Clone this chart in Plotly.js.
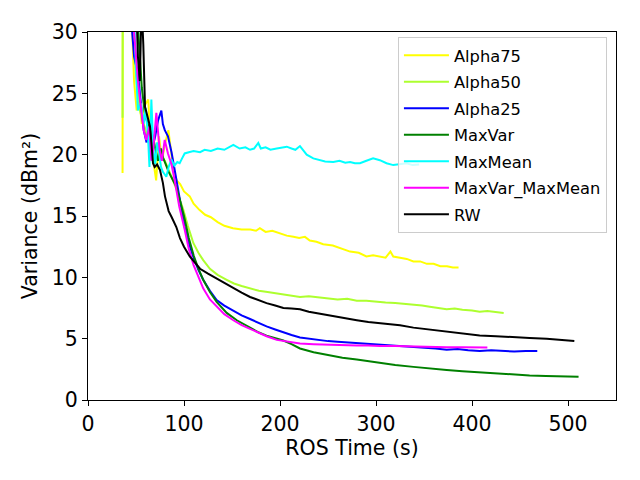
<!DOCTYPE html>
<html>
<head>
<meta charset="utf-8">
<script src="https://cdn.plot.ly/plotly-3.0.1.min.js"></script>
<style>
  html, body { margin: 0; padding: 0; background: white; }
  #chart { width: 640px; height: 480px; }
</style>
</head>
<body>
<div id="chart"></div>
<script>
// series, ROS time (s) vs variance (dBm^2)
const alpha75X = [36, 36.5, 46, 48, 50.7, 53, 56, 59, 62.8, 65, 68, 71, 74, 77, 80, 83.7, 87, 90, 92.4, 96, 100, 106, 110, 116, 122, 128, 135, 142, 151, 160, 169, 175, 179, 185, 192, 200, 207, 214, 220, 226, 231, 238, 245, 255, 263, 273, 282, 290, 297, 305, 310, 315, 318, 325, 332, 339, 346, 353, 360, 367, 374, 380, 386];
const alpha75Y = [18.5, 50, 30.2, 26, 23.6, 25, 22.5, 24, 24.5, 21, 19.5, 17.9, 21.5, 19.5, 20.8, 22.0, 20, 18.5, 17.9, 17.6, 17.0, 16.6, 16.0, 15.5, 15.1, 14.9, 14.5, 14.2, 14.0, 13.9, 13.9, 13.8, 14.0, 13.7, 13.8, 13.6, 13.4, 13.3, 13.2, 13.3, 13.0, 12.9, 12.7, 12.6, 12.4, 12.1, 12.0, 11.7, 11.8, 11.7, 11.6, 12.1, 11.7, 11.6, 11.5, 11.3, 11.3, 11.1, 11.1, 10.9, 10.9, 10.8, 10.8];

const alpha50X = [36, 36.5, 47, 50, 53, 56, 60, 63, 66, 70, 73, 77, 80, 84, 88, 92, 96, 99.3, 104, 109.7, 115, 120, 127, 135, 144.5, 152, 160, 168.8, 178, 187, 196.6, 205, 213, 220.8, 230, 240, 250, 260, 270, 280, 290, 300, 310, 320, 330, 339, 348, 356, 365, 373.6, 382, 390, 400, 408, 416, 424, 433];
const alpha50Y = [23, 50, 30, 26.5, 24, 23, 22, 21, 20.5, 19.5, 20, 19.8, 19.5, 18.8, 18, 17.2, 16.3, 15.5, 14.2, 12.8, 12.0, 11.4, 10.7, 10.2, 9.8, 9.5, 9.3, 9.1, 8.9, 8.8, 8.7, 8.6, 8.5, 8.4, 8.45, 8.35, 8.3, 8.2, 8.25, 8.1, 8.1, 8.0, 7.95, 7.9, 7.85, 7.75, 7.7, 7.6, 7.5, 7.4, 7.45, 7.35, 7.3, 7.2, 7.25, 7.15, 7.1];

const alpha25X = [45, 48, 52, 55, 58, 61, 64, 67, 70, 73, 76.4, 78, 80, 83.3, 87, 90.3, 95, 100.7, 105, 110, 115, 120, 127, 134, 142, 151.4, 160, 168.8, 177, 186, 195, 203.5, 212, 220.8, 230, 240, 250, 260, 270, 280, 290, 304, 315, 326, 339, 350, 362, 373.6, 385, 396, 408, 420, 432, 444, 456, 468];
const alpha25Y = [31, 28, 26.6, 24.5, 22, 21, 22.5, 20.5, 21.5, 22.8, 23.6, 22.5, 22.0, 21.5, 20.2, 18.75, 16.5, 14.1, 12.8, 11.6, 10.6, 9.8, 8.9, 8.15, 7.7, 7.3, 6.9, 6.6, 6.3, 6.0, 5.75, 5.5, 5.3, 5.1, 5.0, 4.9, 4.8, 4.75, 4.7, 4.65, 4.6, 4.5, 4.45, 4.4, 4.3, 4.25, 4.2, 4.1, 4.15, 4.05, 4.0, 4.05, 4.0, 3.95, 4.0, 4.0];

const maxVarX = [50, 53.8, 56, 59, 62, 65, 67.7, 70, 73, 76, 78, 81, 84, 88, 92, 96, 100, 105, 110, 115, 120, 127, 134, 144.5, 155, 168.8, 178, 186, 195, 203.5, 212, 220.8, 235, 250, 265, 280, 292, 304, 320, 339, 356, 373.6, 390, 408, 425, 443, 460, 477, 495, 511];
const maxVarY = [33, 28.5, 25.5, 23.5, 22.5, 22, 21.5, 20.5, 19.5, 20.5, 19.8, 19.2, 18.6, 18, 17.4, 16.2, 15, 13.2, 11.8, 10.7, 9.8, 8.8, 8.0, 7.1, 6.5, 5.9, 5.5, 5.25, 5.05, 4.85, 4.55, 4.2, 3.9, 3.65, 3.45, 3.3, 3.15, 3.0, 2.85, 2.7, 2.55, 2.45, 2.35, 2.25, 2.15, 2.05, 2.0, 1.95, 1.9, 1.9];

const maxMeanX = [44, 48.6, 50, 52, 55, 58, 60, 62.5, 64, 66, 68, 70, 72, 74, 76, 78, 81.6, 84, 86.8, 90, 93, 95.5, 98, 100.7, 105, 110, 116.7, 121.5, 128, 135, 142, 151.4, 158, 164, 168.8, 173, 177.4, 180, 185, 190, 196.6, 202, 207, 212, 216, 220.8, 224, 227.8, 234.7, 240, 247, 255.5, 262, 268, 273, 278, 283.3, 290, 297, 304, 311, 318, 325, 332, 338, 345];
const maxMeanY = [32, 30, 27, 23.6, 24.2, 22.5, 23.8, 21.5, 19.0, 24.5, 20.5, 19.2, 21, 20.2, 19, 18.6, 18.2, 19.0, 19.6, 19.1, 19.4, 19.3, 19.7, 20.1, 20.2, 20.3, 20.2, 20.4, 20.3, 20.5, 20.4, 20.8, 20.5, 20.6, 20.4, 20.5, 20.95, 20.5, 20.6, 20.4, 20.5, 20.55, 20.65, 20.5, 20.4, 20.7, 20.4, 20.0, 19.7, 19.6, 19.45, 19.4, 19.5, 19.35, 19.4, 19.3, 19.3, 19.5, 19.7, 19.55, 19.3, 19.15, 19.2, 19.3, 19.15, 19.2];

const maxVarMaxMeanX = [47, 50.5, 52, 55.5, 58, 60.7, 64, 66, 68, 71.2, 74.6, 77, 79.9, 83.3, 87, 90.3, 95, 100.7, 105, 110, 115, 120, 127, 134, 142, 151.4, 160, 168.8, 178, 186, 196.6, 205, 213, 220.8, 235, 250, 265, 280, 292, 304, 320, 339, 356, 373.6, 390, 404, 416];
const maxVarMaxMeanY = [31, 27, 26, 23.6, 22, 21.2, 22.3, 19.5, 20.5, 23.4, 20.4, 19.5, 21.2, 20.1, 19.2, 17.9, 15.8, 13.9, 12.3, 11.0, 10.0, 9.1, 8.2, 7.6, 7.0, 6.5, 6.1, 5.8, 5.45, 5.2, 4.9, 4.8, 4.7, 4.6, 4.55, 4.5, 4.5, 4.45, 4.45, 4.4, 4.4, 4.35, 4.35, 4.3, 4.3, 4.3, 4.27];

const rwX = [50, 52, 54, 55.7, 56.5, 57.6, 59.4, 62, 64.6, 66, 67.7, 69.4, 72, 75, 78, 80.2, 82, 84, 87.2, 92, 95.8, 100, 106, 111, 116.7, 125, 134, 142, 151.4, 160, 168.8, 177, 186, 195, 203.5, 212, 220.8, 230, 240, 250, 260, 270, 280, 292, 304, 315, 325, 339, 356, 373.6, 390, 408, 425, 443, 460, 477.8, 492, 506.6];
const rwY = [33, 28, 26, 32, 31, 29, 23.9, 23, 22.3, 21, 19.3, 19.0, 19.2, 18.75, 17.7, 16.6, 16.0, 15.4, 14.9, 14.1, 13.2, 12.5, 11.7, 11.2, 10.7, 10.3, 9.9, 9.5, 9.1, 8.75, 8.4, 8.15, 7.9, 7.7, 7.5, 7.45, 7.4, 7.2, 7.05, 6.9, 6.75, 6.6, 6.5, 6.35, 6.25, 6.2, 6.1, 5.9, 5.75, 5.6, 5.45, 5.25, 5.2, 5.1, 5.05, 5.0, 4.9, 4.8];

const seriesNames = ['Alpha75', 'Alpha50', 'Alpha25', 'MaxVar', 'MaxMean', 'MaxVar_MaxMean', 'RW'];
const seriesColors = ['yellow', 'greenyellow', 'blue', 'green', 'cyan', 'magenta', 'black'];
const seriesX = [alpha75X, alpha50X, alpha25X, maxVarX, maxMeanX, maxVarMaxMeanX, rwX];
const seriesY = [alpha75Y, alpha50Y, alpha25Y, maxVarY, maxMeanY, maxVarMaxMeanY, rwY];

const traces = seriesNames.map((name, k) => ({
	x: seriesX[k],
	y: seriesY[k],
	name: name,
	legendgroup: name,
	type: 'scatter',
	mode: 'lines',
	line: {color: seriesColors[k], width: 2},
}));

const axisStyle = {
	showline: true,
	linecolor: 'black',
	linewidth: 1,
	mirror: true,
	ticks: 'outside',
	ticklen: 5,
	tickwidth: 1,
	tickcolor: 'black',
	showgrid: false,
	zeroline: false,
	tickfont: {size: 20.5, color: 'black'},
};

const layout = {
	width: 640,
	height: 480,
	margin: {l: 88, r: 24, t: 32, b: 80},
	paper_bgcolor: 'white',
	plot_bgcolor: 'white',
	font: {family: 'DejaVu Sans', color: 'black'},
	showlegend: true,
	xaxis: Object.assign({}, axisStyle, {
		range: [0, 550],
		tickvals: [0, 100, 200, 300, 400, 500],
		title: {text: 'ROS Time (s)', font: {size: 20.5}, standoff: 4},
	}),
	yaxis: Object.assign({}, axisStyle, {
		range: [0, 30],
		tickvals: [0, 5, 10, 15, 20, 25, 30],
		title: {text: 'Variance (dBm²)', font: {size: 20.5}, standoff: 8},
	}),
	legend: {
		x: 0.587,
		y: 0.986,
		xanchor: 'left',
		yanchor: 'top',
		bgcolor: 'rgba(255,255,255,0.8)',
		bordercolor: '#cccccc',
		borderwidth: 1,
		font: {size: 16.3},
		tracegroupgap: 2.3,
		itemwidth: 45,
	},
};

Plotly.newPlot('chart', traces, layout, {displayModeBar: false, staticPlot: true});
</script>
</body>
</html>
